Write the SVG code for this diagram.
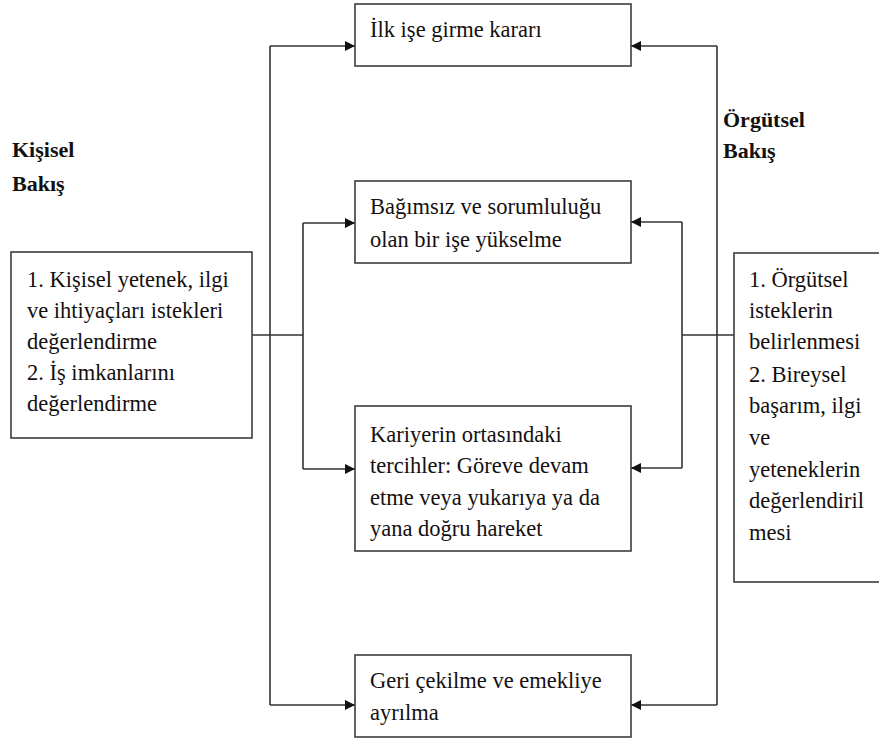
<svg xmlns="http://www.w3.org/2000/svg" width="879" height="742" viewBox="0 0 879 742">
<style>
.box{fill:#fff;stroke:#3c3c3c;stroke-width:1.6}
.t{font-family:"Liberation Serif","Times New Roman",Times,"Noto Serif","Nimbus Roman","FreeSerif","DejaVu Serif",serif;font-size:22.5px;fill:#141010}
.h{font-family:"Liberation Serif","Times New Roman",Times,"Noto Serif","Nimbus Roman","FreeSerif","DejaVu Serif",serif;font-size:22px;font-weight:bold;fill:#111}
.ln{fill:none;stroke:#333;stroke-width:1.6}
</style>
<defs>
<marker id="ah" viewBox="0 0 10 10" refX="10" refY="5" markerWidth="10" markerHeight="10" markerUnits="userSpaceOnUse" orient="auto">
<path d="M0,0 L10,5 L0,10 z" fill="#111"/>
</marker>
</defs>
<rect width="879" height="742" fill="#fff"/>
<g id="label-kisisel">
<text class="h" x="12" y="157">Kişisel</text>
<text class="h" x="12" y="191">Bakış</text>
</g>
<g id="label-orgutsel">
<text class="h" x="723" y="127">Örgütsel</text>
<text class="h" x="723" y="158">Bakış</text>
</g>
<g id="connectors">
<path class="ln" d="M252,335 H303"/>
<path class="ln" d="M270,705 V46"/>
<path class="ln" d="M270,46 H355" marker-end="url(#ah)"/>
<path class="ln" d="M270,705 H355" marker-end="url(#ah)"/>
<path class="ln" d="M303,223 V469"/>
<path class="ln" d="M303,223 H355" marker-end="url(#ah)"/>
<path class="ln" d="M303,469 H355" marker-end="url(#ah)"/>
<path class="ln" d="M734,335 H682"/>
<path class="ln" d="M717,46 V705"/>
<path class="ln" d="M717,46 H631" marker-end="url(#ah)"/>
<path class="ln" d="M717,705 H631" marker-end="url(#ah)"/>
<path class="ln" d="M682,222 V468"/>
<path class="ln" d="M682,222 H631" marker-end="url(#ah)"/>
<path class="ln" d="M682,468 H631" marker-end="url(#ah)"/>
</g>
<g id="node-left">
<rect class="box" x="11" y="252" width="241" height="186"/>
<text class="t" x="27" y="287">1. Kişisel yetenek, ilgi</text>
<text class="t" x="27" y="318">ve ihtiyaçları istekleri</text>
<text class="t" x="27" y="349">değerlendirme</text>
<text class="t" x="27" y="380">2. İş imkanlarını</text>
<text class="t" x="27" y="411">değerlendirme</text>
</g>
<g id="node-ilk">
<rect class="box" x="355" y="4" width="276" height="62"/>
<text class="t" x="370" y="37">İlk işe girme kararı</text>
</g>
<g id="node-bagimsiz">
<rect class="box" x="355" y="181" width="276" height="82"/>
<text class="t" x="370" y="214">Bağımsız ve sorumluluğu</text>
<text class="t" x="370" y="247">olan bir işe yükselme</text>
</g>
<g id="node-kariyer">
<rect class="box" x="355" y="406" width="276" height="145"/>
<text class="t" x="370" y="442">Kariyerin ortasındaki</text>
<text class="t" x="370" y="473">tercihler: Göreve devam</text>
<text class="t" x="370" y="505">etme veya yukarıya ya da</text>
<text class="t" x="370" y="536">yana doğru hareket</text>
</g>
<g id="node-geri">
<rect class="box" x="355" y="655" width="276" height="82"/>
<text class="t" x="370" y="688">Geri çekilme ve emekliye</text>
<text class="t" x="370" y="720">ayrılma</text>
</g>
<g id="node-right">
<rect class="box" x="734" y="253" width="150" height="329"/>
<text class="t" x="749" y="287">1. Örgütsel</text>
<text class="t" x="749" y="318">isteklerin</text>
<text class="t" x="749" y="349">belirlenmesi</text>
<text class="t" x="749" y="382">2. Bireysel</text>
<text class="t" x="749" y="413">başarım, ilgi</text>
<text class="t" x="749" y="445">ve</text>
<text class="t" x="749" y="477">yeteneklerin</text>
<text class="t" x="749" y="508">değerlendiril</text>
<text class="t" x="749" y="540">mesi</text>
</g>
</svg>
